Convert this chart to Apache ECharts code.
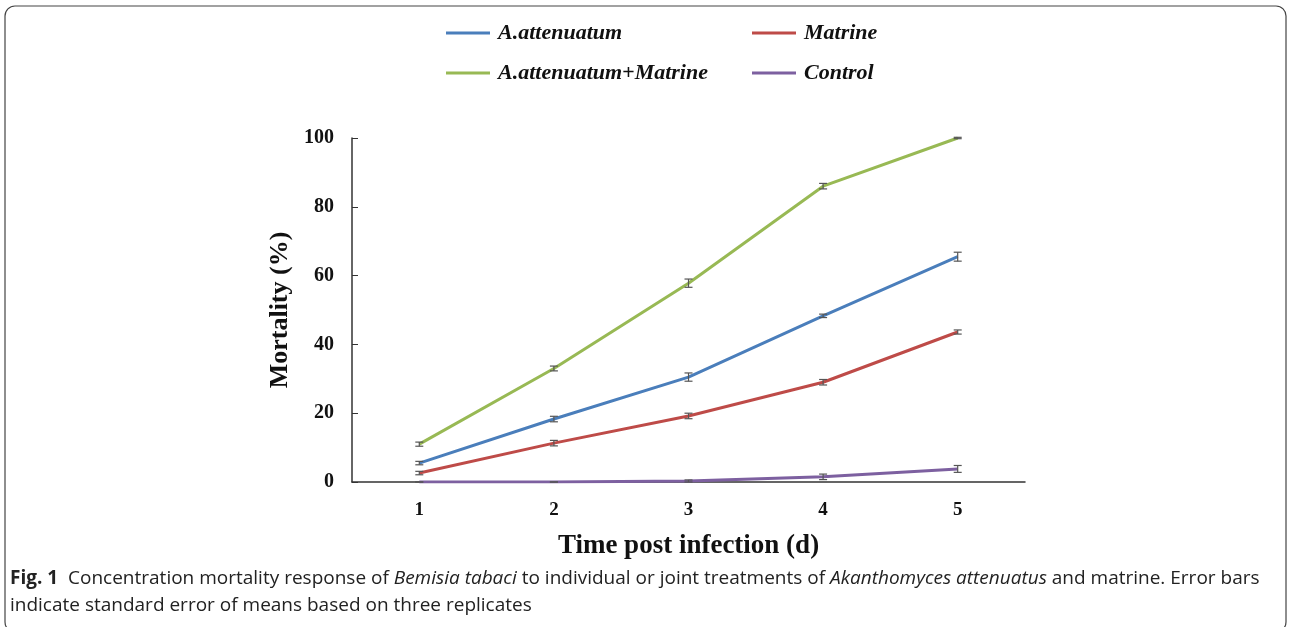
<!DOCTYPE html>
<html>
<head>
<meta charset="UTF-8">
<title>Mortality</title>
<script src="https://cdn.jsdelivr.net/npm/echarts@6/dist/echarts.min.js"></script>
<style>
  html, body { margin: 0; padding: 0; background: #fff; }
  #main { width: 1290px; height: 627px; }
</style>
</head>
<body>
<div id="main"></div>
<script>
// days post infection
var days = ['1', '2', '3', '4', '5'];
var seriesNames = ['A.attenuatum', 'Matrine', 'A.attenuatum+Matrine', 'Control'];
// mean mortality (%)
var attenuatum = [5.5, 18.3, 30.5, 48.3, 65.5];
var matrine = [2.6, 11.3, 19.2, 29.0, 43.6];
var combined = [11.0, 33.0, 57.8, 86.0, 100];
var control = [0, 0, 0.3, 1.5, 3.8];
// standard error
var attenuatumSE = [0.5, 0.8, 1.2, 0.5, 1.3];
var matrineSE = [0.5, 0.8, 0.8, 0.8, 0.6];
var combinedSE = [0.6, 0.7, 1.2, 0.8, 0.2];
var controlSE = [0, 0, 0.3, 0.8, 1.0];

var colors = ['#4a7ebb', '#be4b48', '#98b954', '#7d60a0'];
var serif = '"Liberation Serif", "Times New Roman", serif';
var sans = '"Open Sans", sans-serif';

var chart = echarts.init(document.getElementById('main'));

function errData(vals, se) {
  return vals.map(function (v, i) { return [i, v - se[i], v + se[i]]; });
}

function errorSeries(vals, se) {
  return {
    type: 'custom',
    z: 5,
    silent: true,
    renderItem: function (params, api) {
      var lo = api.coord([api.value(0), api.value(1)]);
      var hi = api.coord([api.value(0), api.value(2)]);
      var w = 4;
      var st = { stroke: '#555', lineWidth: 1.2 };
      return {
        type: 'group',
        children: [
          { type: 'line', shape: { x1: lo[0], y1: lo[1], x2: hi[0], y2: hi[1] }, style: st },
          { type: 'line', shape: { x1: lo[0] - w, y1: lo[1], x2: lo[0] + w, y2: lo[1] }, style: st },
          { type: 'line', shape: { x1: hi[0] - w, y1: hi[1], x2: hi[0] + w, y2: hi[1] }, style: st }
        ]
      };
    },
    encode: { x: 0, y: [1, 2] },
    data: errData(vals, se)
  };
}

function lineSeries(name, vals, color) {
  return {
    name: name,
    type: 'line',
    data: vals,
    symbol: 'none',
    lineStyle: { color: color, width: 3 },
    itemStyle: { color: color },
    z: 3
  };
}

function legendAt(name, left, top) {
  return {
    data: [name],
    left: left,
    top: top,
    padding: 0,
    icon: 'rect',
    itemWidth: 44,
    itemHeight: 3,
    itemGap: 8,
    textStyle: { fontFamily: serif, fontStyle: 'italic', fontWeight: 'bold', fontSize: 22, color: '#111', padding: [0, 0, 0, 3] }
  };
}

var option = {
  backgroundColor: '#fff',
  animation: false,
  color: colors,
  legend: [
    legendAt(seriesNames[0], 446, 22),
    legendAt(seriesNames[1], 752, 22),
    legendAt(seriesNames[2], 446, 62),
    legendAt(seriesNames[3], 752, 62)
  ],
  grid: { left: 352, right: 265, top: 138, bottom: 145 },
  xAxis: {
    type: 'category',
    data: days,
    boundaryGap: true,
    axisLine: { lineStyle: { color: '#333', width: 1.5 } },
    axisTick: { show: false },
    axisLabel: { fontFamily: serif, fontWeight: 'bold', fontSize: 19, color: '#111', margin: 19 },
    name: 'Time post infection (d)',
    nameLocation: 'middle',
    nameGap: 51,
    nameTextStyle: { fontFamily: serif, fontWeight: 'bold', fontSize: 27, color: '#111' }
  },
  yAxis: {
    type: 'value',
    min: 0,
    max: 100,
    interval: 20,
    splitLine: { show: false },
    axisLine: { show: true, lineStyle: { color: '#333', width: 1.5 } },
    axisTick: { show: true, inside: true, length: 6, lineStyle: { color: '#333' } },
    axisLabel: { fontFamily: serif, fontWeight: 'bold', fontSize: 20, color: '#111', margin: 18 },
    name: 'Mortality (%)',
    nameLocation: 'middle',
    nameGap: 46,
    nameRotate: 90,
    nameTextStyle: { fontFamily: serif, fontWeight: 'bold', fontSize: 26, color: '#111', padding: [0, 0, 12, 0] }
  },
  graphic: [
    {
      type: 'rect',
      shape: { x: 5, y: 6, width: 1281, height: 626, r: 10 },
      style: { fill: 'none', stroke: '#444', lineWidth: 1.2 },
      z: -1
    },
    {
      type: 'text',
      left: 10,
      top: 565,
      style: {
        text: '{b|Fig. 1}  Concentration mortality response of {i|Bemisia tabaci} to individual or joint treatments of {i|Akanthomyces attenuatus} and matrine. Error bars\nindicate standard error of means based on three replicates',
        font: '19px ' + sans,
        fill: '#222',
        lineHeight: 27,
        rich: {
          b: { fontWeight: 'bold', fontSize: 19, fontFamily: sans, fill: '#222', lineHeight: 27 },
          i: { fontStyle: 'italic', fontSize: 19, fontFamily: sans, fill: '#222', lineHeight: 27 }
        }
      }
    }
  ],
  series: [
    lineSeries(seriesNames[3], control, colors[3]),
    lineSeries(seriesNames[1], matrine, colors[1]),
    lineSeries(seriesNames[0], attenuatum, colors[0]),
    lineSeries(seriesNames[2], combined, colors[2]),
    errorSeries(attenuatum, attenuatumSE),
    errorSeries(matrine, matrineSE),
    errorSeries(combined, combinedSE),
    errorSeries(control, controlSE)
  ]
};

chart.setOption(option);
</script>
</body>
</html>
